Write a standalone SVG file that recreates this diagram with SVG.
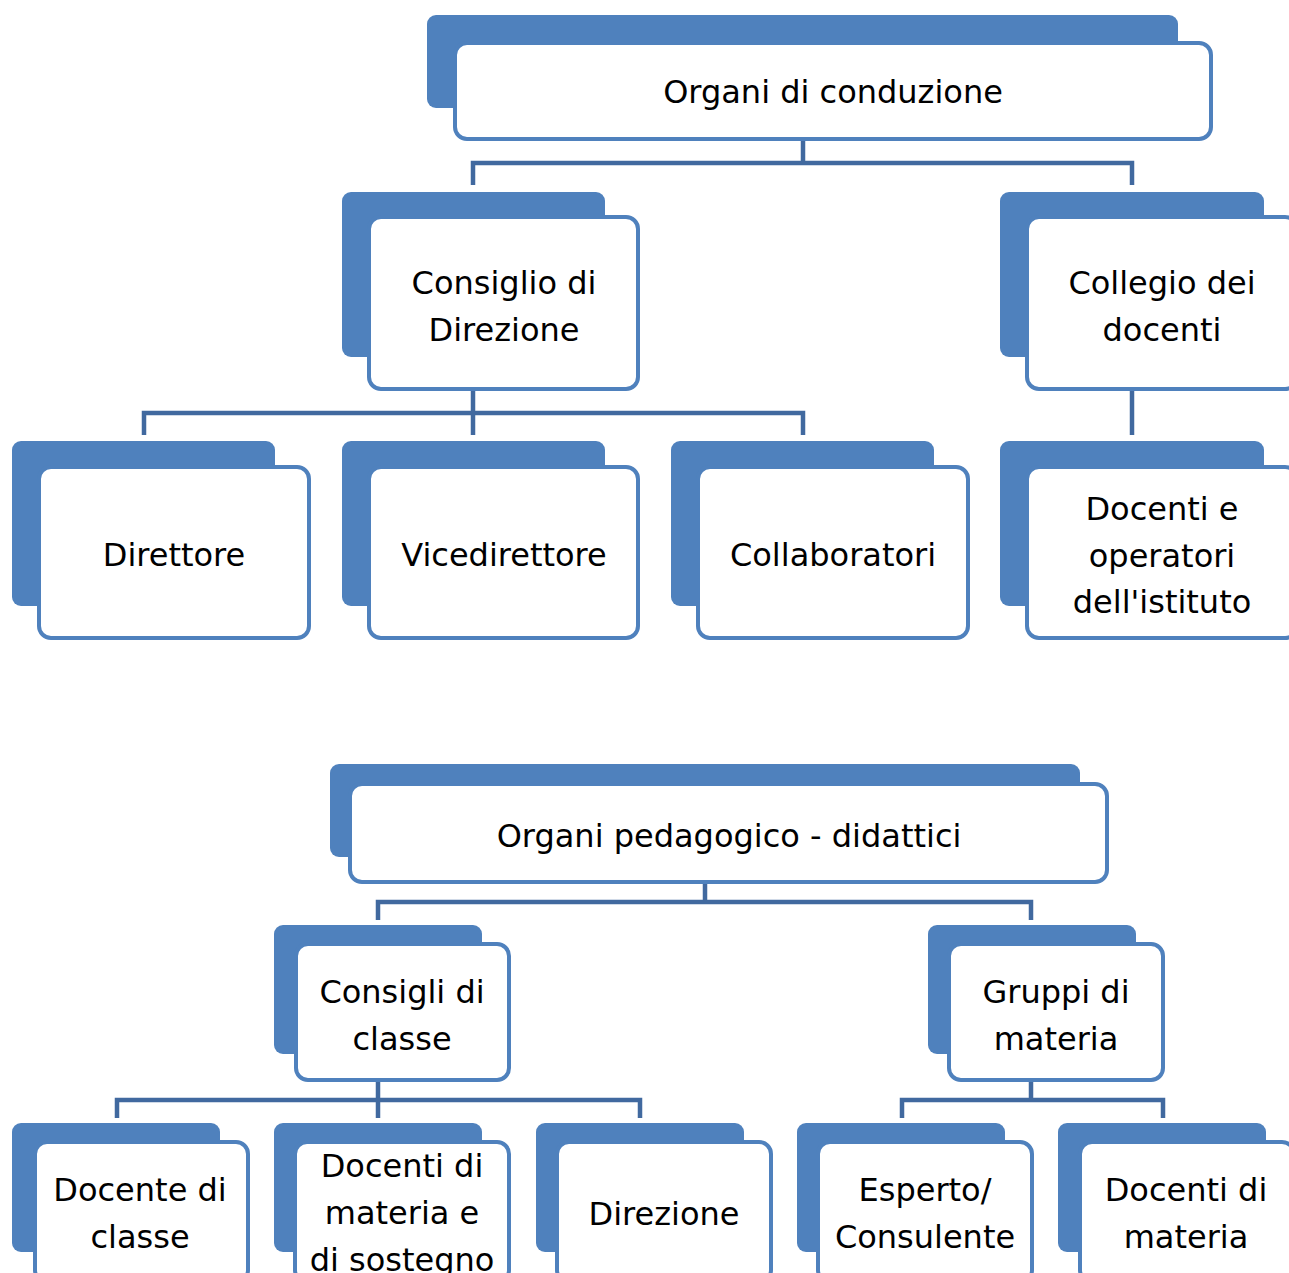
<svg xmlns="http://www.w3.org/2000/svg" width="1289" height="1273" viewBox="0 0 1289 1273">
<style>
.bk{fill:#4F81BD}
.fr{fill:#fff;stroke:#4F81BD;stroke-width:4}
.t{font-family:"DejaVu Sans",Verdana,sans-serif;font-size:32px;fill:#000;text-anchor:middle}
.c{fill:none;stroke:#41699F;stroke-width:4.5}
</style>
<rect width="1289" height="1273" fill="#fff"/>
<g id="connectors">
<path class="c" d="M803 139V163M473 185V163H1132V185"/>
<path class="c" d="M473 389V435M144 435V413H803V435"/>
<path class="c" d="M1132 389V435"/>
<path class="c" d="M705 882V902M378 920V902H1031V920"/>
<path class="c" d="M378 1080V1118M117 1118V1100H640V1118"/>
<path class="c" d="M1031 1080V1100M902 1118V1100H1163V1118"/>
</g>
<g id="n-conduzione">
<rect class="bk" x="427" y="15" width="751" height="93" rx="9"/>
<rect class="fr" x="455" y="43" width="756" height="96" rx="12"/>
<text class="t" x="833" y="103">Organi di conduzione</text>
</g>
<g id="n-consiglio">
<rect class="bk" x="342" y="192" width="263" height="165" rx="9"/>
<rect class="fr" x="369" y="217" width="269" height="172" rx="12"/>
<text class="t" x="504" y="294">Consiglio di</text>
<text class="t" x="504" y="341">Direzione</text>
</g>
<g id="n-collegio">
<rect class="bk" x="1000" y="192" width="264" height="165" rx="9"/>
<rect class="fr" x="1027" y="217" width="270" height="172" rx="12"/>
<text class="t" x="1162" y="294">Collegio dei</text>
<text class="t" x="1162" y="341">docenti</text>
</g>
<g id="n-direttore">
<rect class="bk" x="12" y="441" width="263" height="165" rx="9"/>
<rect class="fr" x="39" y="467" width="270" height="171" rx="12"/>
<text class="t" x="174" y="566">Direttore</text>
</g>
<g id="n-vicedirettore">
<rect class="bk" x="342" y="441" width="263" height="165" rx="9"/>
<rect class="fr" x="369" y="467" width="269" height="171" rx="12"/>
<text class="t" x="504" y="566">Vicedirettore</text>
</g>
<g id="n-collaboratori">
<rect class="bk" x="671" y="441" width="263" height="165" rx="9"/>
<rect class="fr" x="698" y="467" width="270" height="171" rx="12"/>
<text class="t" x="833" y="566">Collaboratori</text>
</g>
<g id="n-docenti-operatori">
<rect class="bk" x="1000" y="441" width="264" height="165" rx="9"/>
<rect class="fr" x="1027" y="467" width="270" height="171" rx="12"/>
<text class="t" x="1162" y="520">Docenti e</text>
<text class="t" x="1162" y="567">operatori</text>
<text class="t" x="1162" y="613">dell'istituto</text>
</g>
<g id="n-pedagogico">
<rect class="bk" x="330" y="764" width="750" height="93" rx="9"/>
<rect class="fr" x="350" y="784" width="757" height="98" rx="12"/>
<text class="t" x="729" y="847">Organi pedagogico - didattici</text>
</g>
<g id="n-consigli-classe">
<rect class="bk" x="274" y="925" width="208" height="129" rx="9"/>
<rect class="fr" x="296" y="944" width="213" height="136" rx="12"/>
<text class="t" x="402" y="1003">Consigli di</text>
<text class="t" x="402" y="1050">classe</text>
</g>
<g id="n-gruppi">
<rect class="bk" x="928" y="925" width="208" height="129" rx="9"/>
<rect class="fr" x="949" y="944" width="214" height="136" rx="12"/>
<text class="t" x="1056" y="1003">Gruppi di</text>
<text class="t" x="1056" y="1050">materia</text>
</g>
<g id="n-docente-classe">
<rect class="bk" x="12" y="1123" width="208" height="129" rx="9"/>
<rect class="fr" x="35" y="1142" width="213" height="140" rx="12"/>
<text class="t" x="140" y="1201">Docente di</text>
<text class="t" x="140" y="1248">classe</text>
</g>
<g id="n-docenti-sostegno">
<rect class="bk" x="274" y="1123" width="208" height="129" rx="9"/>
<rect class="fr" x="295" y="1142" width="214" height="140" rx="12"/>
<text class="t" x="402" y="1177">Docenti di</text>
<text class="t" x="402" y="1224">materia e</text>
<text class="t" x="402" y="1271">di sostegno</text>
</g>
<g id="n-direzione">
<rect class="bk" x="536" y="1123" width="208" height="129" rx="9"/>
<rect class="fr" x="557" y="1142" width="214" height="140" rx="12"/>
<text class="t" x="664" y="1225">Direzione</text>
</g>
<g id="n-esperto">
<rect class="bk" x="797" y="1123" width="208" height="129" rx="9"/>
<rect class="fr" x="818" y="1142" width="214" height="140" rx="12"/>
<text class="t" x="925" y="1201">Esperto/</text>
<text class="t" x="925" y="1248">Consulente</text>
</g>
<g id="n-docenti-materia">
<rect class="bk" x="1058" y="1123" width="208" height="129" rx="9"/>
<rect class="fr" x="1080" y="1142" width="214" height="140" rx="12"/>
<text class="t" x="1186" y="1201">Docenti di</text>
<text class="t" x="1186" y="1248">materia</text>
</g>
</svg>
